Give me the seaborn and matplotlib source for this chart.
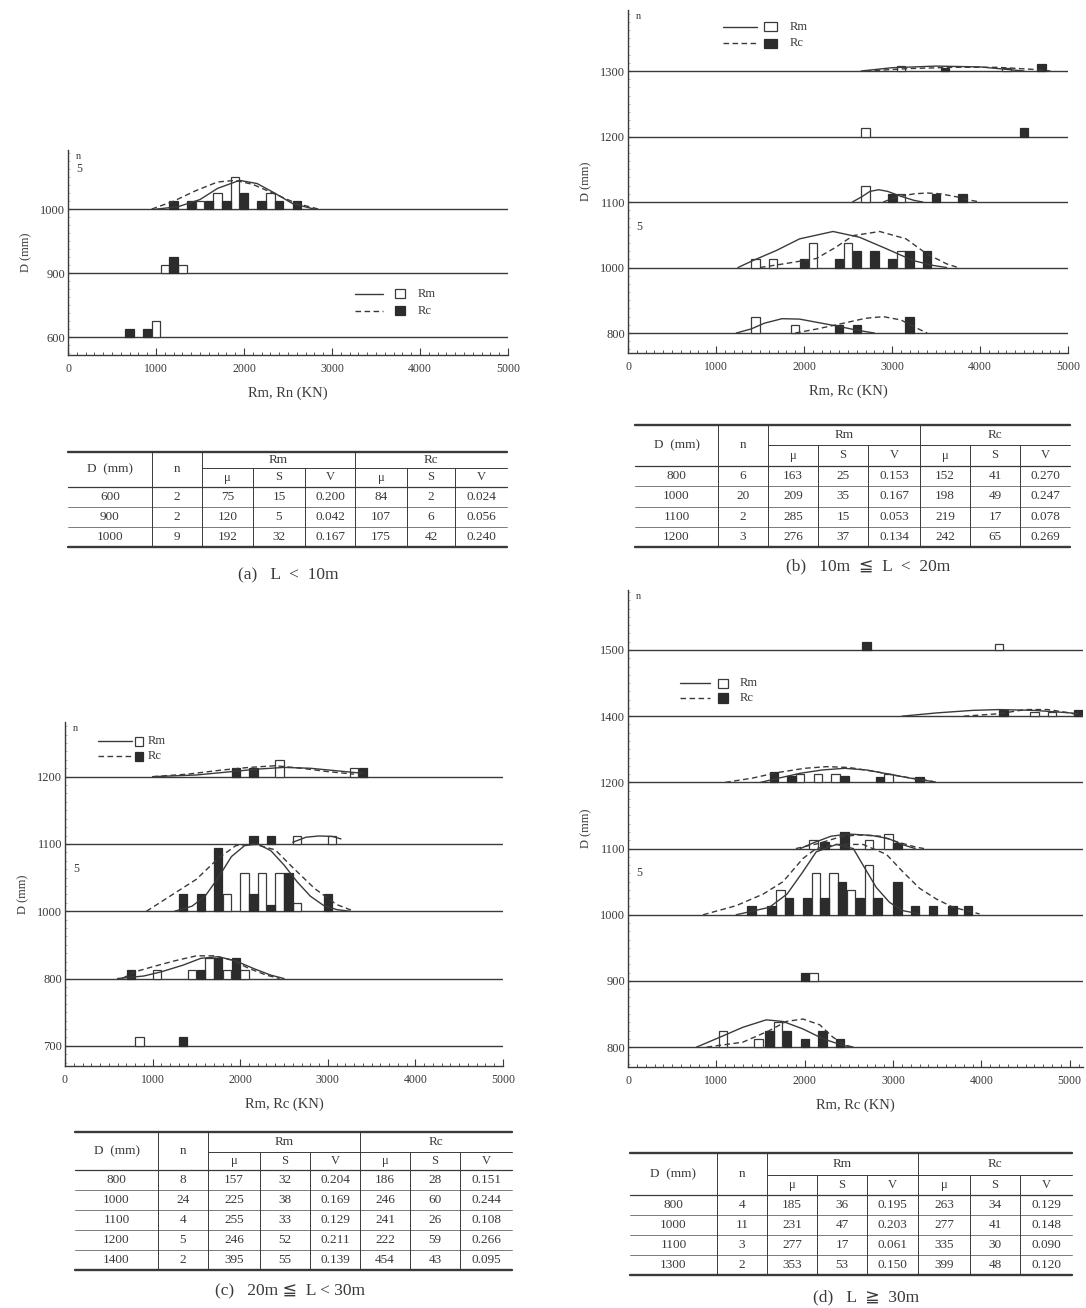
import numpy as np
import pandas as pd
import seaborn as sns
import matplotlib.pyplot as plt
from matplotlib.ticker import MultipleLocator

sns.set_theme(style="ticks")
plt.rcParams['font.family'] = ['Liberation Serif', 'DejaVu Serif', 'DejaVu Sans']

INK = '#3a3a3a'
DARK = '#2c2c2c'
ROW_STEP = 8      # count units between two diameter rows
BAR_W = 95        # KN

# ---------------- (a) L < 10m ----------------
A_ROWS = [600, 900, 1000]
A_RM_BARS = [(600, 1000, 2), (900, 1100, 1), (900, 1300, 1),
             (1000, 1500, 1), (1000, 1700, 2), (1000, 1900, 4), (1000, 2300, 2)]
A_RC_BARS = [(600, 700, 1), (600, 900, 1), (900, 1200, 2),
             (1000, 1200, 1), (1000, 1400, 1), (1000, 1600, 1), (1000, 1800, 1),
             (1000, 2000, 2), (1000, 2200, 1), (1000, 2400, 1), (1000, 2600, 1)]
A_RM_CURVES = {1000: [(1000, 0), (1250, 0.3), (1500, 1.2), (1700, 2.6), (1950, 3.6),
                      (2150, 3.2), (2350, 2.0), (2550, 0.7), (2800, 0)]}
A_RC_CURVES = {1000: [(950, 0), (1200, 1.0), (1450, 2.3), (1700, 3.4), (1900, 3.6),
                      (2100, 3.1), (2350, 1.9), (2600, 0.7), (2850, 0)]}
A_TABLE = [[600, 2, 75, 15, 0.200, 84, 2, 0.024],
           [900, 2, 120, 5, 0.042, 107, 6, 0.056],
           [1000, 9, 192, 32, 0.167, 175, 42, 0.240]]

# ---------------- (b) 10m <= L < 20m ----------------
B_ROWS = [800, 1000, 1100, 1200, 1300]
B_RM_BARS = [(800, 1450, 2), (800, 1900, 1),
             (1000, 1450, 1), (1000, 1650, 1), (1000, 2100, 3), (1000, 2500, 3), (1000, 3100, 2),
             (1100, 2700, 2), (1100, 3100, 1),
             (1200, 2700, 1),
             (1300, 3100, 0.6), (1300, 4300, 0.4)]
B_RC_BARS = [(800, 2400, 1), (800, 2600, 1), (800, 3200, 2),
             (1000, 2000, 1), (1000, 2400, 1), (1000, 2600, 2), (1000, 2800, 2),
             (1000, 3000, 1), (1000, 3200, 2), (1000, 3400, 2),
             (1100, 3000, 1), (1100, 3500, 1), (1100, 3800, 1),
             (1200, 4500, 1),
             (1300, 3600, 0.4), (1300, 4700, 0.8)]
B_RM_CURVES = {
    800: [(1230, 0), (1400, 0.5), (1550, 1.2), (1750, 1.75), (1950, 1.7), (2150, 1.3),
          (2400, 0.8), (2600, 0.35), (2800, 0)],
    1000: [(1250, 0), (1420, 0.85), (1690, 2.1), (1950, 3.5), (2330, 4.4), (2630, 3.7),
           (2935, 2.3), (3240, 0.85), (3470, 0.25), (3620, 0)],
    1100: [(2550, 0), (2650, 0.6), (2750, 1.3), (2850, 1.5), (2950, 1.3), (3100, 0.7),
           (3250, 0.2), (3350, 0)],
    1300: [(2650, 0), (3000, 0.4), (3500, 0.6), (4000, 0.5), (4300, 0.2), (4500, 0)]}
B_RC_CURVES = {
    800: [(1900, 0), (2150, 0.5), (2450, 1.2), (2700, 1.8), (2900, 2.0), (3100, 1.6),
          (3300, 0.5), (3400, 0)],
    1000: [(1500, 0), (1800, 0.5), (2140, 1.1), (2350, 2.4), (2560, 3.9), (2860, 4.4),
           (3160, 3.5), (3390, 1.7), (3620, 0.45), (3750, 0)],
    1100: [(2900, 0), (3050, 0.6), (3250, 1.0), (3400, 1.1), (3550, 1.0), (3750, 0.6),
           (3900, 0.2), (4000, 0)],
    1300: [(2700, 0), (3200, 0.3), (3700, 0.45), (4200, 0.45), (4600, 0.2), (4800, 0)]}
B_TABLE = [[800, 6, 163, 25, 0.153, 152, 41, 0.270],
           [1000, 20, 209, 35, 0.167, 198, 49, 0.247],
           [1100, 2, 285, 15, 0.053, 219, 17, 0.078],
           [1200, 3, 276, 37, 0.134, 242, 65, 0.269]]

# ---------------- (c) 20m <= L < 30m ----------------
C_ROWS = [700, 800, 1000, 1100, 1200]
C_RM_BARS = [(700, 850, 1),
             (800, 1050, 1), (800, 1450, 1), (800, 1650, 2.5), (800, 1850, 1), (800, 2050, 1),
             (1000, 1850, 2), (1000, 2050, 4.5), (1000, 2250, 4.5), (1000, 2450, 4.5), (1000, 2650, 1),
             (1100, 2650, 1), (1100, 3050, 1),
             (1200, 2450, 2), (1200, 3300, 1)]
C_RC_BARS = [(700, 1350, 1),
             (800, 750, 1), (800, 1550, 1), (800, 1750, 2.5), (800, 1950, 2.5),
             (1000, 1350, 2), (1000, 1550, 2), (1000, 1750, 7.5), (1000, 2150, 2),
             (1000, 2350, 0.8), (1000, 2550, 4.5), (1000, 3000, 2),
             (1100, 2150, 1), (1100, 2350, 1),
             (1200, 1950, 1), (1200, 2150, 1), (1200, 3400, 1)]
C_RM_CURVES = {
    800: [(600, 0), (900, 0.3), (1100, 0.8), (1350, 1.6), (1550, 2.4), (1750, 2.6),
          (1950, 2.1), (2150, 1.2), (2350, 0.4), (2500, 0)],
    1000: [(1250, 0), (1450, 0.6), (1600, 1.8), (1750, 4.0), (1900, 6.5), (2050, 7.8),
           (2200, 8.0), (2350, 7.2), (2500, 5.5), (2650, 3.5), (2800, 1.8), (2950, 0.7),
           (3100, 0.2), (3250, 0)],
    1100: [(2600, 0.2), (2750, 0.8), (2900, 0.95), (3050, 0.9), (3150, 0.6)],
    1200: [(1000, 0), (1500, 0.2), (1900, 0.6), (2200, 0.9), (2500, 1.1), (2800, 1.0),
           (3100, 0.7), (3400, 0.4)]}
C_RC_CURVES = {
    800: [(650, 0), (800, 0.8), (1000, 1.4), (1250, 2.1), (1500, 2.7), (1700, 2.7),
          (1900, 2.2), (2100, 1.2), (2300, 0.4), (2450, 0)],
    1000: [(930, 0), (1200, 1.8), (1500, 3.8), (1750, 6.3), (1950, 7.8), (2150, 8.0),
           (2400, 7.3), (2600, 5.2), (2850, 2.7), (3100, 0.8), (3300, 0)],
    1200: [(1000, 0), (1400, 0.3), (1800, 0.8), (2100, 1.1), (2400, 1.3), (2700, 1.0),
           (3000, 0.6), (3300, 0.3)]}
C_TABLE = [[800, 8, 157, 32, 0.204, 186, 28, 0.151],
           [1000, 24, 225, 38, 0.169, 246, 60, 0.244],
           [1100, 4, 255, 33, 0.129, 241, 26, 0.108],
           [1200, 5, 246, 52, 0.211, 222, 59, 0.266],
           [1400, 2, 395, 55, 0.139, 454, 43, 0.095]]

# ---------------- (d) L >= 30m ----------------
D_ROWS = [800, 900, 1000, 1100, 1200, 1400, 1500]
D_RM_BARS = [(800, 1075, 2), (800, 1475, 1), (800, 1700, 3),
             (900, 2100, 1),
             (1000, 1725, 3), (1000, 2125, 5), (1000, 2325, 5), (1000, 2525, 3), (1000, 2725, 6),
             (1100, 2100, 1), (1100, 2725, 1), (1100, 2950, 1.8),
             (1200, 1950, 1), (1200, 2150, 1), (1200, 2350, 1), (1200, 2950, 1),
             (1400, 4600, 0.5), (1400, 4800, 0.5),
             (1500, 4200, 0.7)]
D_RC_BARS = [(800, 1600, 2), (800, 1800, 2), (800, 2000, 1), (800, 2200, 2), (800, 2400, 1),
             (900, 2000, 1),
             (1000, 1400, 1), (1000, 1625, 1), (1000, 1825, 2), (1000, 2025, 2), (1000, 2225, 2),
             (1000, 2425, 4), (1000, 2625, 2), (1000, 2825, 2), (1000, 3050, 4), (1000, 3250, 1),
             (1000, 3450, 1), (1000, 3675, 1), (1000, 3850, 1),
             (1100, 2225, 0.8), (1100, 2450, 2), (1100, 3050, 0.7),
             (1200, 1650, 1.3), (1200, 1850, 0.8), (1200, 2450, 0.8), (1200, 2850, 0.7), (1200, 3300, 0.6),
             (1400, 4250, 0.8), (1400, 5100, 0.8),
             (1500, 2700, 1)]
D_RM_CURVES = {
    800: [(775, 0), (1040, 1.2), (1300, 2.4), (1565, 3.3), (1755, 3.1), (1980, 2.2),
          (2210, 1.0), (2435, 0.2), (2550, 0)],
    1000: [(1225, 0), (1600, 0.9), (1800, 2.5), (1980, 5.2), (2130, 7.6), (2360, 8.5),
           (2550, 8.0), (2660, 6.0), (2810, 3.3), (2960, 1.5), (3110, 0.5), (3300, 0.1)],
    1100: [(1950, 0), (2100, 0.7), (2300, 1.5), (2500, 1.75), (2750, 1.6), (2950, 1.2),
           (3100, 0.5), (3250, 0)],
    1200: [(1500, 0), (1700, 0.5), (1950, 1.1), (2200, 1.5), (2450, 1.7), (2700, 1.5),
           (2950, 1.0), (3200, 0.5), (3450, 0.1)],
    1400: [(3100, 0), (3500, 0.4), (3900, 0.7), (4200, 0.8), (4600, 0.7), (5000, 0.4),
           (5100, 0.3)]}
D_RC_CURVES = {
    800: [(890, 0), (1300, 0.6), (1600, 2.0), (1790, 3.1), (1980, 3.4), (2170, 2.7),
          (2320, 1.2), (2470, 0.2), (2550, 0)],
    1000: [(850, 0), (1225, 1.1), (1530, 2.5), (1755, 4.0), (1980, 6.8), (2130, 8.0),
           (2360, 8.5), (2660, 8.5), (2925, 7.3), (3110, 5.2), (3300, 3.2), (3490, 1.9),
           (3680, 0.9), (3980, 0.1)],
    1100: [(1900, 0), (2150, 0.6), (2400, 1.4), (2600, 1.65), (2850, 1.5), (3050, 0.8),
           (3250, 0.2), (3350, 0)],
    1200: [(1100, 0), (1400, 0.5), (1700, 1.2), (2000, 1.7), (2250, 1.9), (2500, 1.8),
           (2800, 1.3), (3100, 0.7), (3400, 0.2), (3500, 0)],
    1400: [(3800, 0), (4200, 0.3), (4500, 0.8), (4750, 0.8), (5000, 0.4), (5150, 0)]}
D_TABLE = [[800, 4, 185, 36, 0.195, 263, 34, 0.129],
           [1000, 11, 231, 47, 0.203, 277, 41, 0.148],
           [1100, 3, 277, 17, 0.061, 335, 30, 0.090],
           [1300, 2, 353, 53, 0.150, 399, 48, 0.120]]

W, H = 1086, 1308
fig = plt.figure(figsize=(W / 100, H / 100), dpi=100)
fig.patch.set_facecolor('white')


def px_axes(left, top, right, bottom):
    return fig.add_axes([left / W, 1 - bottom / H, (right - left) / W, (bottom - top) / H])


def draw_panel(ax, rows, rm_bars, rc_bars, rm_curves, rc_curves, xmax, ylim,
               five_row, legend, xlabel):
    base = {d: i * ROW_STEP for i, d in enumerate(rows)}
    for d in rows:
        ax.axhline(base[d], color=INK, lw=1.0, zorder=1)

    ax.bar([k for d, k, n in rm_bars], [n for d, k, n in rm_bars],
           bottom=[base[d] for d, k, n in rm_bars], width=BAR_W,
           facecolor='white', edgecolor=INK, linewidth=0.9, zorder=2)
    ax.bar([k for d, k, n in rc_bars], [n for d, k, n in rc_bars],
           bottom=[base[d] for d, k, n in rc_bars], width=BAR_W,
           facecolor=DARK, edgecolor=DARK, linewidth=0.9, zorder=2)

    frames = []
    for series, curves in (('Rm', rm_curves), ('Rc', rc_curves)):
        for d, pts in curves.items():
            df = pd.DataFrame(pts, columns=['kn', 'n'])
            df['y'] = df['n'] + base[d]
            df['series'] = series
            df['curve'] = f'{series}{d}'
            frames.append(df)
    data = pd.concat(frames, ignore_index=True)
    sns.lineplot(data=data, x='kn', y='y', style='series', units='curve',
                 estimator=None, sort=False, color=INK, linewidth=1.0,
                 dashes={'Rm': '', 'Rc': (4, 2.5)}, legend=False, ax=ax, zorder=3)

    ax.set_xlim(0, xmax)
    ax.set_ylim(*ylim)
    ax.set_xticks([0, 1000, 2000, 3000, 4000, 5000])
    ax.set_xticklabels(['0', '1000', '2000', '3000', '4000', '5000'], fontsize=8.5, color=INK)
    ax.xaxis.set_minor_locator(MultipleLocator(100))
    ax.tick_params(axis='x', which='major', direction='in', length=5, width=0.8,
                   color=INK, pad=6)
    ax.tick_params(axis='x', which='minor', direction='in', length=2.5, width=0.6, color=INK)
    ax.set_yticks([base[d] for d in rows])
    ax.set_yticklabels([str(d) for d in rows], fontsize=9, color=INK)
    ax.yaxis.set_minor_locator(MultipleLocator(1))
    ax.tick_params(axis='y', which='major', direction='in', length=3, width=0.8,
                   color=INK, pad=2)
    ax.tick_params(axis='y', which='minor', direction='in', length=1.5, width=0.5, color='#999')
    sns.despine(ax=ax)
    for s in ('left', 'bottom'):
        ax.spines[s].set_color(INK)
        ax.spines[s].set_linewidth(1.0)
    ax.set_facecolor('none')
    ax.set_xlabel(xlabel, fontsize=10.5, color=INK, labelpad=8)
    ax.set_ylabel('D (mm)', fontsize=9, color=INK, labelpad=6)

    ax.text(90, ylim[1] - 0.2, 'n', fontsize=7.5, color=INK, ha='left', va='top')
    ax.text(90, base[five_row] + 5, '5', fontsize=8.5, color=INK, ha='left', va='center')

    (lx0, lx1, sq0, sq1, tx, y_rm, y_rc) = legend
    ax.plot([lx0, lx1], [y_rm, y_rm], color=INK, lw=1.0)
    ax.plot([lx0, lx1], [y_rc, y_rc], color=INK, lw=1.0, dashes=(4, 2.5))
    ax.bar([(sq0 + sq1) / 2], [1.1], bottom=[y_rm - 0.55], width=sq1 - sq0,
           facecolor='white', edgecolor=INK, linewidth=0.9)
    ax.bar([(sq0 + sq1) / 2], [1.1], bottom=[y_rc - 0.55], width=sq1 - sq0,
           facecolor=DARK, edgecolor=DARK, linewidth=0.9)
    ax.text(tx, y_rm, 'Rm', fontsize=9, color=INK, va='center')
    ax.text(tx, y_rc, 'Rc', fontsize=9, color=INK, va='center')


ax_a = px_axes(68, 150, 508, 355)
draw_panel(ax_a, A_ROWS, A_RM_BARS, A_RC_BARS, A_RM_CURVES, A_RC_CURVES, 5000,
           (-2.25, 23.4), 1000, (3261, 3580, 3716, 3830, 3977, 5.4, 3.3), 'Rm, Rn (KN)')

ax_b = px_axes(628, 10, 1068, 353)
draw_panel(ax_b, B_ROWS, B_RM_BARS, B_RC_BARS, B_RM_CURVES, B_RC_CURVES, 5000,
           (-2.44, 39.45), 1000, (1080, 1466, 1545, 1693, 1841, 37.4, 35.4), 'Rm, Rc (KN)')

ax_c = px_axes(65, 722, 503, 1066)
draw_panel(ax_c, C_ROWS, C_RM_BARS, C_RC_BARS, C_RM_CURVES, C_RC_CURVES, 5000,
           (-2.4, 38.5), 1000, (377, 765, 800, 890, 947, 36.2, 34.4), 'Rm, Rc (KN)')

ax_d = px_axes(628, 590, 1083, 1067)
draw_panel(ax_d, D_ROWS, D_RM_BARS, D_RC_BARS, D_RM_CURVES, D_RC_CURVES, 5150,
           (-2.4, 55.25), 1000, (589, 929, 1019, 1133, 1268, 44.0, 42.2), 'Rm, Rc (KN)')

# overlay in pixel coordinates for the tables and captions
ov = fig.add_axes([0, 0, 1, 1])
ov.set_xlim(0, W)
ov.set_ylim(H, 0)
ov.axis('off')


def draw_table(cols, top, h1, h2, bottom, rows, caption, cap_xy):
    fs = 9.5
    ov.plot([cols[0], cols[-1]], [top, top], color=INK, lw=1.7)
    ov.plot([cols[0], cols[-1]], [bottom, bottom], color=INK, lw=1.7)
    ov.plot([cols[2], cols[-1]], [h1, h1], color=INK, lw=0.7)
    ov.plot([cols[0], cols[-1]], [h2, h2], color=INK, lw=0.9)
    rh = (bottom - h2) / len(rows)
    for i in range(1, len(rows)):
        y = h2 + i * rh
        ov.plot([cols[0], cols[-1]], [y, y], color='#666', lw=0.6)
    for j in (1, 2, 5):
        ov.plot([cols[j], cols[j]], [top, bottom], color=INK, lw=0.7)
    for j in (3, 4, 6, 7):
        ov.plot([cols[j], cols[j]], [h1, bottom], color=INK, lw=0.7)
    ov.text((cols[0] + cols[1]) / 2, (top + h2) / 2, 'D  (mm)', fontsize=fs, color=INK,
            ha='center', va='center')
    ov.text((cols[1] + cols[2]) / 2, (top + h2) / 2, 'n', fontsize=fs, color=INK,
            ha='center', va='center')
    ov.text((cols[2] + cols[5]) / 2, (top + h1) / 2, 'Rm', fontsize=fs, color=INK,
            ha='center', va='center')
    ov.text((cols[5] + cols[8]) / 2, (top + h1) / 2, 'Rc', fontsize=fs, color=INK,
            ha='center', va='center')
    for j, lab in zip(range(2, 8), ['μ', 'S', 'V', 'μ', 'S', 'V']):
        ov.text((cols[j] + cols[j + 1]) / 2, (h1 + h2) / 2, lab, fontsize=fs - 0.5,
                color=INK, ha='center', va='center')
    for i, row in enumerate(rows):
        y = h2 + (i + 0.5) * rh
        cells = [str(row[0]), str(row[1]), str(row[2]), str(row[3]), f'{row[4]:.3f}',
                 str(row[5]), str(row[6]), f'{row[7]:.3f}']
        for j, txt in enumerate(cells):
            ov.text((cols[j] + cols[j + 1]) / 2, y, txt, fontsize=fs, color=INK,
                    ha='center', va='center')
    ov.text(cap_xy[0], cap_xy[1], caption, fontsize=12.5, color=INK, ha='center', va='center')


draw_table([68, 152, 202, 253, 305, 355, 407, 455, 507], 452, 468, 487, 547,
           A_TABLE, '(a)   L  <  10m', (288, 575))
draw_table([635, 718, 768, 818, 868, 920, 970, 1020, 1070], 425, 445, 466, 547,
           B_TABLE, '(b)   10m  ≦  L  <  20m', (868, 566))
draw_table([75, 158, 208, 260, 310, 360, 410, 460, 512], 1132, 1152, 1170, 1270,
           C_TABLE, '(c)   20m ≦  L < 30m', (290, 1291))
draw_table([630, 717, 767, 817, 867, 918, 970, 1020, 1072], 1153, 1175, 1195, 1275,
           D_TABLE, '(d)   L  ≧  30m', (866, 1297))

fig.savefig('out.png', dpi=100, facecolor='white')
